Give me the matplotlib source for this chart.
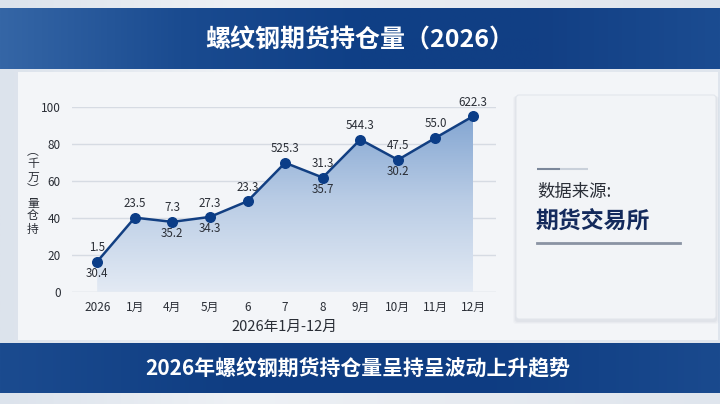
import numpy as np
import matplotlib
matplotlib.use('Agg')
import matplotlib.pyplot as plt
from matplotlib.patches import FancyBboxPatch, Rectangle, Polygon
from matplotlib.colors import LinearSegmentedColormap

plt.rcParams['font.family'] = ['Noto Sans CJK SC', 'DejaVu Sans']

# ---------------- data ----------------
categories = ['2026', '1月', '4月', '5月', '6', '7', '8', '9月', '10月', '11月', '12月']
values = [16.3, 40.1, 37.8, 40.5, 49.0, 69.8, 61.8, 82.4, 71.4, 83.3, 95.0]
upper_labels = ['1.5', '23.5', '7.3', '27.3', '23.3', '525.3', '31.3', '544.3', '47.5', '55.0', '622.3']
lower_labels = ['30.4', '', '35.2', '34.3', '', '', '35.7', '', '30.2', '', '']
y_ticks = [0, 20, 40, 60, 80, 100]
title = '螺纹钢期货持仓量（2026）'
subtitle = '2026年螺纹钢期货持仓量呈持呈波动上升趋势'
x_label = '2026年1月-12月'
y_label = '︵\n千\n万\n︶\n量\n仓\n持'
source_label = '数据来源:'
source_name = '期货交易所'

W, H = 720, 404
fig = plt.figure(figsize=(7.2, 4.04), dpi=100)

# ---------------- background layer (pixel coords) ----------------
bg = fig.add_axes([0, 0, 1, 1])
bg.axis('off')
grad_h = np.linspace(0, 1, 256).reshape(1, -1)
bg_cmap = LinearSegmentedColormap.from_list('bg', ['#dce3ec', '#eef1f5', '#e6eaf0', '#dfe5ed'])
bg.imshow(grad_h, extent=[0, W, H, 0], cmap=bg_cmap, aspect='auto', zorder=0)

# main light panel
bg.add_patch(Rectangle((18, 72), 700, 268, facecolor='#f3f5f8', edgecolor='none', zorder=1))

# top banner
ban_cmap = LinearSegmentedColormap.from_list('ban', ['#3566a6', '#1a4b90', '#0f3f86', '#123f84', '#1b4c91'])
bg.imshow(grad_h, extent=[0, W, 69, 8], cmap=ban_cmap, aspect='auto', zorder=2)
# bottom banner
ban2_cmap = LinearSegmentedColormap.from_list('ban2', ['#1b4b8f', '#0f3d82', '#0e3c82', '#1a4a8e'])
bg.imshow(grad_h, extent=[0, W, 393, 343], cmap=ban2_cmap, aspect='auto', zorder=2)

bg.text(360, 40, title, color='white', fontsize=18, fontweight='bold',
        ha='center', va='center', zorder=5)
bg.text(358, 368, subtitle, color='white', fontsize=15, fontweight='bold',
        ha='center', va='center', zorder=5)

# right source card (with soft shadow)
for i, a in enumerate([0.05, 0.04, 0.03]):
    bg.add_patch(FancyBboxPatch((516 - 1 - i, 95 + 1), 200 + 2 + 2 * i, 224 + 2 + i,
                                boxstyle='round,pad=0,rounding_size=3',
                                facecolor='#5a6a85', alpha=a, edgecolor='none', zorder=3))
bg.add_patch(FancyBboxPatch((516, 95), 200, 224, boxstyle='round,pad=0,rounding_size=3',
                            facecolor='#f2f4f7', edgecolor='#e2e6ec', linewidth=0.8, zorder=4))
bg.plot([537, 560], [169, 169], color='#7b879a', lw=1.5, zorder=5, solid_capstyle='butt')
bg.plot([560, 588], [169, 169], color='#c9d0da', lw=1.5, zorder=5, solid_capstyle='butt')
bg.text(537, 192, source_label, color='#2b2f38', fontsize=12.5, ha='left', va='center', zorder=5)
bg.text(536, 221, source_name, color='#142a5c', fontsize=16.5, fontweight='bold',
        ha='left', va='center', zorder=5)
bg.plot([537, 680], [243, 243], color='#8a93a3', lw=2, zorder=5)

bg.set_xlim(0, W)
bg.set_ylim(H, 0)

# ---------------- chart ----------------
ax_l, ax_r, ax_t, ax_b = 72, 496, 107, 291.7
ax = fig.add_axes([ax_l / W, 1 - ax_b / H, (ax_r - ax_l) / W, (ax_b - ax_t) / H])
ax.set_facecolor('none')
x = np.arange(len(categories))
ax.set_xlim(-0.67, len(categories) - 1 + 0.61)
ax.set_ylim(0, 100)

for yt in y_ticks:
    ax.axhline(yt, color='#d6dbe3' if yt else '#cdd3dc', lw=1, zorder=1)

# gradient fill under the line
verts = [(x[0], 0)] + list(zip(x, values)) + [(x[-1], 0)]
poly = Polygon(verts, closed=True, facecolor='none', edgecolor='none')
ax.add_patch(poly)
fill_cmap = LinearSegmentedColormap.from_list('fill', ['#e3eaf4', '#b9cce5', '#7ea2d0'])
grad_v = np.linspace(0, 1, 256).reshape(-1, 1)
im = ax.imshow(grad_v, extent=[x[0], x[-1], 0, 100], origin='lower', cmap=fill_cmap,
               aspect='auto', zorder=2)
im.set_clip_path(poly)

ax.plot(x, values, color='#123f82', lw=1.8, zorder=4)
ax.scatter(x, values, s=48, color='#0b3d87', zorder=5, clip_on=False)

for xi, v, up, lo in zip(x, values, upper_labels, lower_labels):
    if up:
        ax.annotate(up, (xi, v), xytext=(0, 10), textcoords='offset points',
                    ha='center', va='center', fontsize=8.3, color='#2a2e36', zorder=6,
                    annotation_clip=False)
    if lo:
        ax.annotate(lo, (xi, v), xytext=(0, -8.5), textcoords='offset points',
                    ha='center', va='center', fontsize=8.3, color='#2a2e36', zorder=6,
                    annotation_clip=False)

ax.set_xticks(x)
ax.set_xticklabels(categories)
ax.set_yticks(y_ticks)
ax.tick_params(axis='both', length=0, labelsize=8.5, colors='#2a2e36')
ax.tick_params(axis='x', pad=7)
ax.tick_params(axis='y', pad=8)
for s in ax.spines.values():
    s.set_visible(False)

ax.set_xlabel(x_label, fontsize=10.5, color='#2a2e36', labelpad=4)

bg.text(33, 190, y_label, fontsize=8.5, color='#2a2e36', ha='center', va='center',
        linespacing=1.0, zorder=5)

fig.savefig('out.png', dpi=100)
